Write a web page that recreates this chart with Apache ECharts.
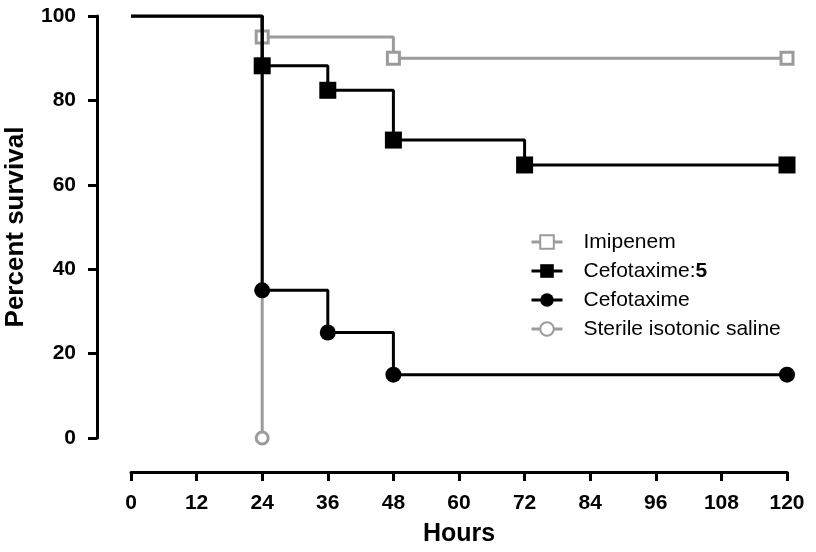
<!DOCTYPE html>
<html><head><meta charset="utf-8">
<script src="https://cdn.jsdelivr.net/npm/echarts@6/dist/echarts.min.js"></script>
<style>html,body{margin:0;padding:0;background:#fff}#c{width:816px;height:552px}</style>
</head><body><div id="c"></div>
<script>
var xTicks = [0,12,24,36,48,60,72,84,96,108,120];
var yTicks = [0,20,40,60,80,100];
var imipenemT = [0,24,48,120];
var imipenemS = [100,95,90,90];
var cefo5T = [0,24,36,48,72,120];
var cefo5S = [100,88.2,82.4,70.6,64.7,64.7];
var cefoT = [0,24,36,48,120];
var cefoS = [100,35,25,15,15];
var salineT = [0,24];
var salineS = [100,0];
var names = ['Imipenem','Cefotaxime:5','Cefotaxime','Sterile isotonic saline'];

var GRAY = '#9b9b9b';
var FONT = 'Liberation Sans, Arial, sans-serif';
function pts(t, s){
  return t.map(function(x,i){
    var d = {value:[x, s[i]]};
    if(i===0) d.symbol = 'none';
    return d;
  });
}
function ser(name, t, s, color, symbol, filled, size, z){
  return {
    name: name, type:'line', step:'end', data: pts(t,s),
    symbol: symbol, symbolSize: size, showAllSymbol:true,
    lineStyle:{color:color, width:3},
    itemStyle:{color: filled ? color : '#fff', borderColor: color, borderWidth: filled?0:3},
    z: z, animation:false
  };
}
var chart = echarts.init(document.getElementById('c'));
chart.setOption({
  animation:false,
  grid:{left:131, right:29, top:16, bottom:114, outerBoundsMode:'none', containLabel:false},
  legend:{
    data: names, orient:'vertical', left:525, top:226,
    itemWidth:31, itemHeight:17, itemGap:7,
    lineStyle:{width:3},
    textStyle:{fontFamily:FONT, fontSize:21, lineHeight:22, color:'#000', padding:[0,0,0,16],
      rich:{b:{fontFamily:FONT, fontSize:21, lineHeight:22, fontWeight:'bold', color:'#000'}}},
    formatter:function(n){ return n==='Cefotaxime:5' ? 'Cefotaxime:{b|5}' : n; }
  },
  xAxis:{
    type:'value', min:0, max:120, interval:12, offset:34,
    name:'Hours', nameLocation:'middle', nameGap:50,
    nameTextStyle:{fontFamily:FONT, fontWeight:'bold', fontSize:25, color:'#000'},
    axisLine:{show:true, onZero:false, lineStyle:{color:'#000', width:3}},
    axisTick:{show:true, length:9, lineStyle:{color:'#000', width:3}},
    axisLabel:{fontFamily:FONT, fontWeight:'bold', fontSize:21, color:'#000', margin:21,
      formatter:function(v){ return xTicks.indexOf(v)>=0 ? String(v) : ''; }},
    splitLine:{show:false}
  },
  yAxis:{
    type:'value', min:0, max:100, interval:20, offset:34,
    name:'Percent survival', nameLocation:'middle', nameGap:68,
    nameTextStyle:{fontFamily:FONT, fontWeight:'bold', fontSize:26, color:'#000'},
    axisLine:{show:true, onZero:false, lineStyle:{color:'#000', width:3}},
    axisTick:{show:true, length:9, lineStyle:{color:'#000', width:3}},
    axisLabel:{fontFamily:FONT, fontWeight:'bold', fontSize:21, color:'#000', margin:21,
      formatter:function(v){ return yTicks.indexOf(v)>=0 ? String(v) : ''; }},
    splitLine:{show:false}
  },
  series:[
    ser(names[0], imipenemT, imipenemS, GRAY, 'rect', false, 12, 2),
    ser(names[1], cefo5T, cefo5S, '#000', 'rect', true, 17, 4),
    ser(names[2], cefoT, cefoS, '#000', 'circle', true, 16, 4),
    ser(names[3], salineT, salineS, GRAY, 'circle', false, 12, 2)
  ]
});
</script></body></html>
